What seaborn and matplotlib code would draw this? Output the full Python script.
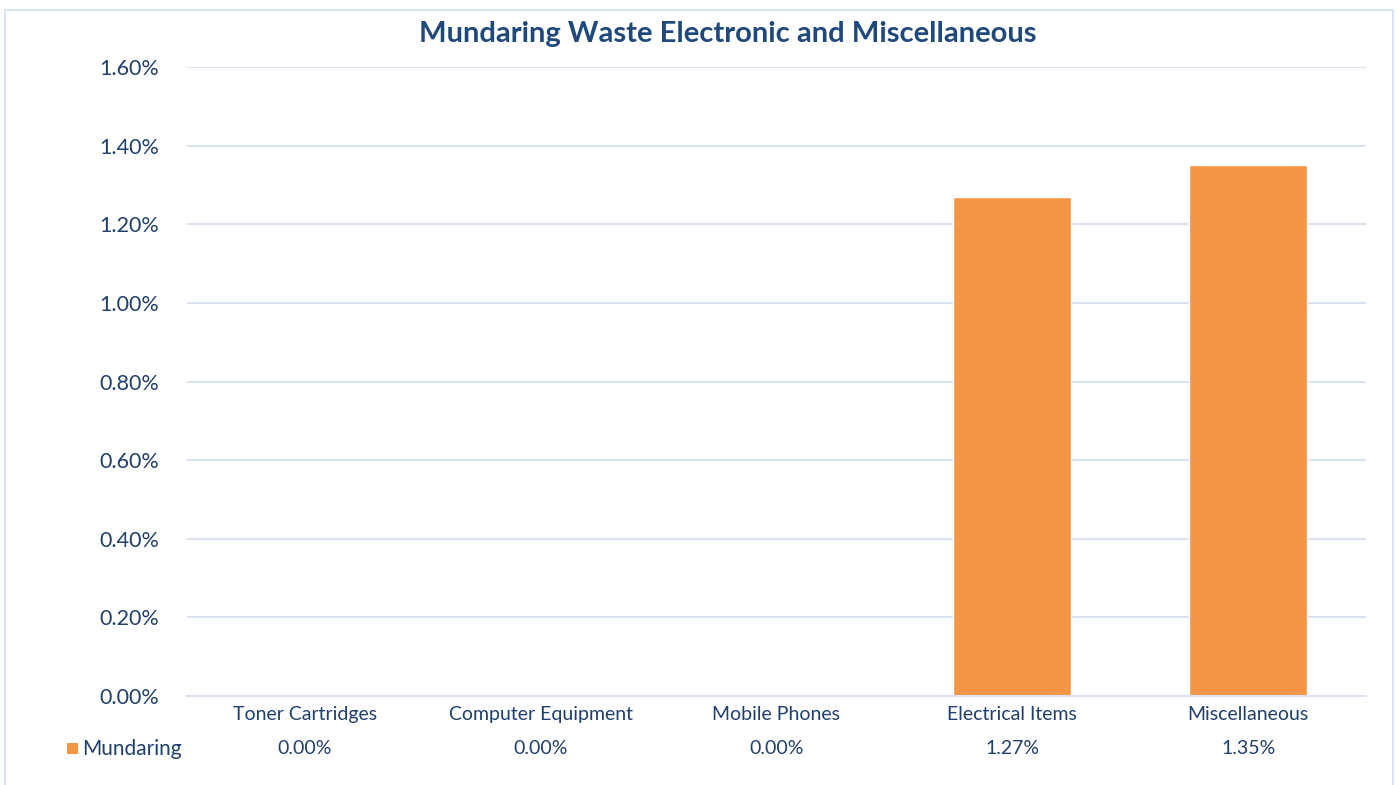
import numpy as np
import pandas as pd
import matplotlib
matplotlib.use("Agg")
import matplotlib.pyplot as plt
import matplotlib.transforms as mtransforms
from matplotlib.patches import Rectangle
import seaborn as sns

categories = ["Toner Cartridges", "Computer Equipment", "Mobile Phones", "Electrical Items", "Miscellaneous"]
values = [0.00, 0.00, 0.00, 1.27, 1.35]
series_name = "Mundaring"
title = "Mundaring Waste Electronic and Miscellaneous"
yticks = [0.0, 0.2, 0.4, 0.6, 0.8, 1.0, 1.2, 1.4, 1.6]

bar_color = "#F59646"
text_color = "#1F3F6E"
grid_color = "#D9E3F1"

sns.set_theme(style="white")
plt.rcParams['font.family'] = ['Lato', 'DejaVu Sans']

df = pd.DataFrame({"cat": categories, "val": values})

fig = plt.figure(figsize=(13.99, 7.85), dpi=100)
ax = fig.add_axes([187/1399, 1-696/785, (1366-187)/1399, (696-67)/785])

sns.barplot(data=df, x="cat", y="val", color=bar_color, width=0.5, ax=ax, saturation=1)

ax.set_ylim(0, 1.6)
ax.set_xlim(-0.5, len(categories)-0.5)
ax.set_yticks(yticks)
ax.set_yticklabels([f"{v:.2f}%" for v in yticks], color=text_color, fontsize=15.5)
ax.yaxis.grid(True, color=grid_color, linewidth=1.5)
ax.set_axisbelow(True)
for s in ["top", "right", "left"]:
    ax.spines[s].set_visible(False)
ax.spines["bottom"].set_color(grid_color)
ax.spines["bottom"].set_linewidth(1.5)
ax.tick_params(axis="y", length=0, pad=20)
ax.tick_params(axis="x", length=0, pad=7)
ax.set_xticklabels(categories, color=text_color, fontsize=14)
ax.set_xlabel("")
ax.set_ylabel("")

# data table row
trans = mtransforms.blended_transform_factory(ax.transData, fig.transFigure)
for i, v in enumerate(values):
    ax.text(i, 1-749/785, f"{v:.2f}%", transform=trans, ha="center", va="center",
            color=text_color, fontsize=14)
fig.patches.append(Rectangle((67/1399, 1-754/785), 11/1399, 11/785, transform=fig.transFigure,
                             facecolor=bar_color, edgecolor="none"))
fig.text(82/1399, 1-749/785, series_name, ha="left", va="center", color=text_color, fontsize=15)

fig.text(728/1399, 1-34/785, title, ha="center", va="center",
         color="#1F497D", fontsize=21, fontweight="bold")

# chart border
fig.patches.append(Rectangle((5/1399, -0.05), (1393-5)/1399, 1.05-10/785, transform=fig.transFigure,
                             facecolor="none", edgecolor=grid_color, linewidth=1.5))

fig.savefig("out.png", dpi=100)
